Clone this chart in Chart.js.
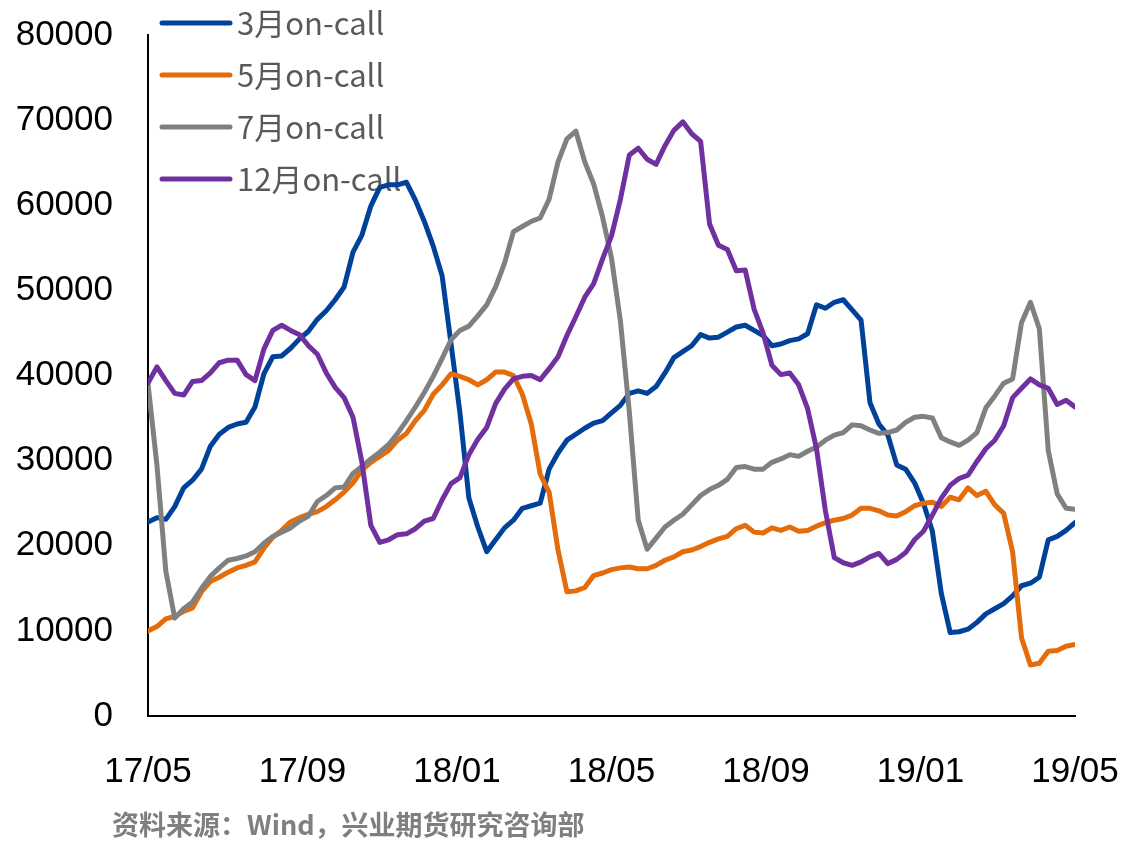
<!DOCTYPE html>
<html>
<head>
<meta charset="utf-8">
<script src="https://cdn.jsdelivr.net/npm/chart.js@4/dist/chart.umd.min.js"></script>
<style>
  html, body { margin: 0; padding: 0; background: #fff; }
  #wrap { width: 1140px; height: 850px; }
</style>
</head>
<body>
<div id="wrap"><canvas id="c" width="1140" height="850"></canvas></div>
<script>
// Weekly on-call volumes, May 2017 – May 2019
const tickLabels = ['17/05', '17/09', '18/01', '18/05', '18/09', '19/01', '19/05'];
const seriesNames = ['3月on-call', '5月on-call', '7月on-call', '12月on-call'];

const march = [22800,23300,23100,24600,26800,27700,29000,31700,33100,33900,
  34300,34500,36300,40200,42200,42300,43200,44300,45200,46600,
  47600,48900,50400,54500,56500,59900,62100,62400,62400,62700,
  60600,58100,55200,51700,43700,35600,25600,22200,19300,20700,
  22100,23000,24400,24700,25000,29000,30900,32400,33100,33800,
  34400,34700,35600,36500,37900,38200,37900,38700,40300,42100,
  42800,43500,44800,44400,44500,45100,45700,45900,45300,44700,
  43500,43700,44100,44300,44900,48300,47900,48600,48900,47700,
  46500,36800,34300,33000,29500,29000,27400,25000,21700,14400,
  9800,9900,10200,11000,12000,12600,13200,14100,15300,15600,
  16300,20700,21100,21800,22700];

const may = [10000,10500,11400,11700,12300,12700,14600,15800,16300,16900,
  17400,17700,18100,19700,21000,21800,22800,23300,23700,24000,
  24600,25400,26300,27400,28900,29800,30500,31200,32400,33200,
  34700,35900,37800,38900,40200,39900,39500,38900,39500,40400,
  40400,40000,37800,34300,28400,26300,19500,14600,14700,15100,
  16500,16800,17200,17400,17500,17300,17300,17700,18300,18700,
  19300,19500,19900,20400,20800,21100,22000,22400,21600,21500,
  22100,21800,22200,21700,21800,22300,22700,23000,23200,23600,
  24400,24400,24100,23600,23500,24000,24700,25000,25100,24600,
  25700,25400,26800,25900,26400,24800,23800,19300,9200,6000,
  6200,7600,7700,8200,8400];

const july = [39000,29500,17000,11500,12600,13400,15000,16400,17400,18300,
  18500,18800,19300,20300,21100,21600,22100,22900,23500,25200,
  25900,26800,26900,28500,29300,30200,31000,31900,33200,34700,
  36300,38000,39900,42000,44200,45300,45800,47000,48300,50400,
  53200,56900,57500,58100,58500,60700,65100,67800,68700,65100,
  62500,58600,53800,46400,35700,23000,19600,20900,22200,23000,
  23700,24800,25900,26600,27100,27800,29200,29300,29000,29000,
  29800,30200,30700,30500,31100,31600,32400,33000,33300,34200,
  34100,33600,33200,33300,33600,34500,35100,35200,35000,32700,
  32200,31800,32400,33300,36200,37600,39100,39600,46200,48600,
  45500,31200,26100,24400,24300];

const december = [39100,41000,39400,37900,37700,39300,39400,40300,41500,41800,
  41800,40100,39400,43100,45300,45900,45300,44800,43500,42500,
  40300,38600,37400,35100,29800,22400,20400,20700,21300,21400,
  22000,22900,23200,25400,27300,28000,30700,32500,33900,36700,
  38400,39600,39900,40000,39500,40800,42200,44700,46900,49200,
  50800,53700,56400,60700,65900,66700,65400,64800,67000,68800,
  69800,68400,67500,57800,55300,54800,52300,52400,47800,45000,
  41200,40100,40300,38900,36100,31400,24100,18600,18000,17700,
  18100,18700,19100,17900,18400,19200,20700,21700,23600,25600,
  27100,27900,28300,29900,31400,32400,34100,37400,38500,39600,
  38900,38500,36600,37100,36300];

const weeks = march.map((_, i) => i);
const colors = ['#00419A', '#E46C0A', '#808080', '#7030A0'];
const seriesValues = [march, may, july, december];

const AXIS_FONT = "'Liberation Sans', Arial, sans-serif";
const CJK_FONT = "'Noto Sans CJK SC', 'Noto Sans', sans-serif";

// White page background
const bgPlugin = {
  id: 'bg',
  beforeDraw(chart) {
    const ctx = chart.ctx;
    ctx.save();
    ctx.fillStyle = '#ffffff';
    ctx.fillRect(0, 0, chart.width, chart.height);
    ctx.restore();
  }
};

// Legend drawn inside the top-left corner of the plot
const innerLegend = {
  id: 'innerLegend',
  beforeDatasetsDraw(chart) {
    const ctx = chart.ctx;
    const x0 = chart.chartArea.left + 14;
    const y0 = 23;
    const rowGap = 52;
    ctx.save();
    chart.data.datasets.forEach((ds, i) => {
      const y = y0 + i * rowGap;
      ctx.strokeStyle = ds.borderColor;
      ctx.lineWidth = 5;
      ctx.lineCap = 'round';
      ctx.beginPath();
      ctx.moveTo(x0, y);
      ctx.lineTo(x0 + 68, y);
      ctx.stroke();
      ctx.fillStyle = '#595959';
      ctx.font = '31px ' + CJK_FONT;
      ctx.textBaseline = 'middle';
      ctx.textAlign = 'left';
      ctx.fillText(ds.label, x0 + 75, y);
    });
    ctx.restore();
  }
};

// Source note under the x axis
const sourceNote = {
  id: 'sourceNote',
  afterDraw(chart) {
    const ctx = chart.ctx;
    ctx.save();
    ctx.fillStyle = '#7F7F7F';
    ctx.font = 'bold 27px ' + CJK_FONT;
    ctx.textBaseline = 'middle';
    ctx.textAlign = 'left';
    ctx.fillText('资料来源：Wind，兴业期货研究咨询部', 112, 825);
    ctx.restore();
  }
};

new Chart(document.getElementById('c'), {
  type: 'line',
  data: {
    labels: weeks,
    datasets: seriesNames.map((name, i) => ({
      label: name,
      data: seriesValues[i],
      borderColor: colors[i],
      backgroundColor: colors[i],
      borderWidth: 5,
      borderJoinStyle: 'round',
      borderCapStyle: 'round',
      pointRadius: 0,
      tension: 0,
      fill: false,
      order: seriesNames.length - i
    }))
  },
  options: {
    responsive: false,
    animation: false,
    devicePixelRatio: 1,
    layout: { padding: { left: 0, right: 65, top: 35, bottom: 0 } },
    plugins: {
      legend: { display: false },
      tooltip: { enabled: false }
    },
    scales: {
      x: {
        type: 'linear',
        min: 0,
        max: weeks.length - 1,
        grid: { display: false, drawTicks: false },
        border: { display: true, color: '#000000', width: 2 },
        afterBuildTicks(scale) {
          const span = weeks.length - 1;
          scale.ticks = tickLabels.map((_, k) => ({ value: k * span / (tickLabels.length - 1) }));
        },
        afterFit(scale) {
          scale.height = 134;
          scale.paddingLeft = 0;
          scale.paddingRight = 0;
        },
        ticks: {
          autoSkip: false,
          maxRotation: 0,
          padding: 35,
          color: '#000000',
          font: { family: AXIS_FONT, size: 35 },
          callback: (value, index) => tickLabels[index]
        }
      },
      y: {
        min: 0,
        max: 80000,
        grid: { display: false, drawTicks: false },
        border: { display: true, color: '#000000', width: 2 },
        afterFit(scale) {
          scale.width = 148;
          scale.paddingTop = 0;
          scale.paddingBottom = 0;
        },
        ticks: {
          stepSize: 10000,
          padding: 35,
          color: '#000000',
          font: { family: AXIS_FONT, size: 35 },
          callback: (v) => String(v)
        }
      }
    }
  },
  plugins: [bgPlugin, innerLegend, sourceNote]
});
</script>
</body>
</html>
